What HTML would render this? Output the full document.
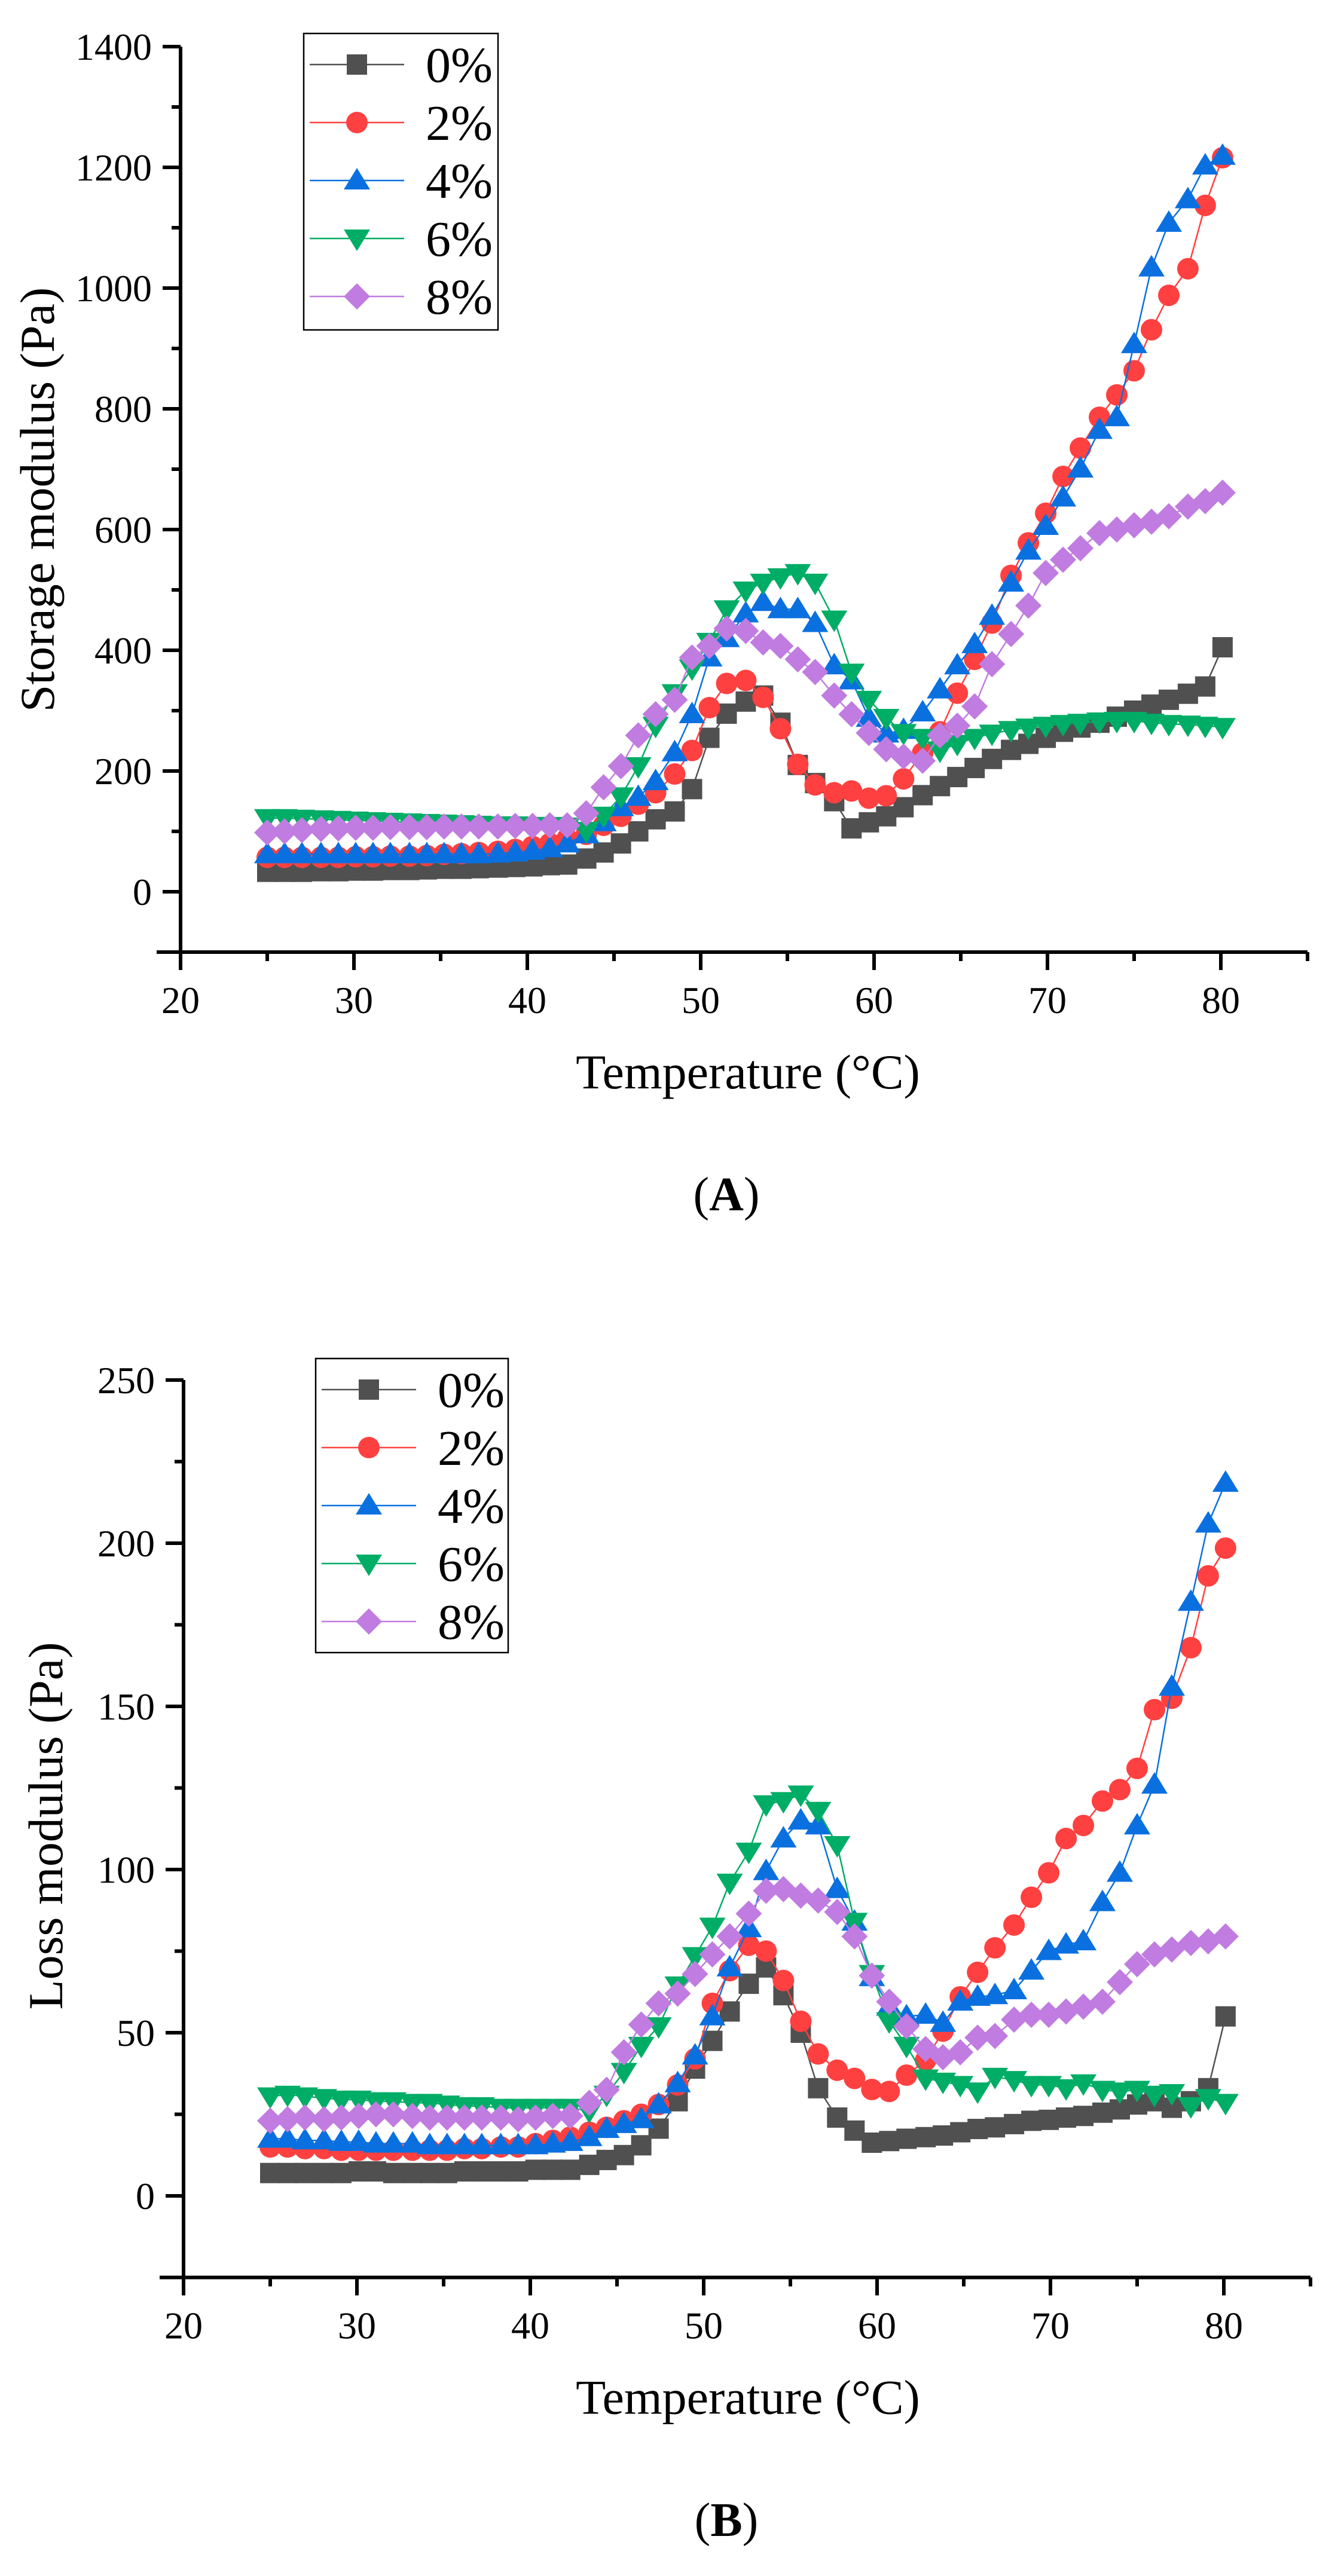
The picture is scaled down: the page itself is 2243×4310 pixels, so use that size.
<!DOCTYPE html>
<html><head><meta charset="utf-8"><style>
html,body{margin:0;padding:0;background:#fff;}
svg{display:block;font-family:"Liberation Serif","Times New Roman",serif;}
svg text{font-family:"Liberation Serif","Times New Roman",serif;}
</style></head><body>
<svg id="fig" width="2243" height="4310" viewBox="0 0 2243 4310" xmlns="http://www.w3.org/2000/svg" font-family="Liberation Serif, serif">
<rect width="2243" height="4310" fill="#fff"/>
<g id="chartA" font-family="Liberation Serif, serif"></g>
<g id="chartB" font-family="Liberation Serif, serif"></g>
<text x="1215" y="2025" font-size="80" text-anchor="middle" font-family="Liberation Serif, serif">(<tspan font-weight="bold">A</tspan>)</text>
<text x="1215" y="4243" font-size="80" text-anchor="middle" font-family="Liberation Serif, serif">(<tspan font-weight="bold">B</tspan>)</text>
</svg>
<script>
const temps=[25.0,26.0,27.0,28.1,29.1,30.1,31.1,32.1,33.2,34.2,35.2,36.2,37.2,38.3,39.3,40.3,41.3,42.3,43.4,44.4,45.4,46.4,47.4,48.5,49.5,50.5,51.5,52.6,53.6,54.6,55.6,56.6,57.7,58.7,59.7,60.7,61.7,62.8,63.8,64.8,65.8,66.8,67.9,68.9,69.9,70.9,71.9,73.0,74.0,75.0,76.0,77.0,78.1,79.1,80.1];
const seriesNames=["0%","2%","4%","6%","8%"];
const xTicks=[20,30,40,50,60,70,80];
const yTicksA=[0,200,400,600,800,1000,1200,1400];
const yTicksB=[0,50,100,150,200,250];
const storage0=[33,33,33,34,34,35,35,36,36,37,38,38,39,40,41,42,44,45,55,65,80,100,120,133,170,255,295,315,325,280,210,180,150,105,115,125,140,160,175,190,205,220,235,245,255,265,272,280,290,300,310,318,328,340,405];
const storage2=[57,57,57,57,57,58,58,59,59,60,62,63,65,67,70,75,80,88,95,110,125,145,164,195,234,305,345,350,322,270,211,177,164,167,155,159,187,230,265,329,385,445,524,578,627,688,735,786,823,863,931,988,1032,1137,1216];
const storage4=[62,62,62,62,62,62,62,62,62,62,62,62,62,63,65,68,72,80,95,115,140,157,183,231,294,388,420,461,480,468,468,445,375,350,288,262,268,297,335,375,410,457,512,565,606,653,701,765,786,907,1034,1108,1147,1203,1219];
const storage6=[122,122,121,120,119,118,117,116,115,114,113,112,111,110,110,109,109,108,101,126,158,208,275,329,370,414,468,499,512,521,528,512,451,363,318,288,263,255,234,245,255,262,268,272,275,278,280,282,283,283,280,278,277,275,273];
const storage8=[98,100,102,104,105,106,106,107,107,107,108,108,108,108,109,109,110,110,130,173,208,259,294,318,388,407,436,432,413,407,385,364,325,294,263,236,224,217,259,275,307,377,427,474,528,550,569,594,600,607,613,622,638,647,661];
const loss0=[7,7,7,7,7,7.5,7.5,7,7,7,7,7.5,7.5,7.5,7.5,8,8,8,9.5,11,12.5,15.5,20.6,29,39,47.5,56.5,65,70,61.5,50,33,24,20,16.3,16.8,17.5,18,18.5,19.5,20.5,21,22,23,23.3,24,24.5,25.5,26.5,28,29,27,29,33,55];
const loss2=[15,15,14.5,14.5,14,14,14,14,14,14,14,14.5,14.5,15,15,16,17,18,19.5,21,23,25,28,34,42,59,69,76.8,75,66,53.5,43.5,38.5,36,32.6,32,37,41.5,50.5,61,68.5,76,83,91.5,99,109.5,113.5,121,124.5,131,149,152.5,168,190,198.5];
const loss4=[17.5,17.5,17,17,16.5,16.5,16,16,16,15.5,15.5,15.5,15.5,15.5,15.5,15.5,16,16.5,18,20.5,22,23.5,28,34.5,43,55,70,82,99.5,109.5,115,113.5,94,84,67,58,55,55.5,53,59.5,61,61.5,63,69,75,77,78,90,99,113.5,126,156,182,206,218.5];
const loss6=[30.5,31,30.5,30,29.5,29.5,29,29,28.5,28.5,28,27.5,27.5,27,27,27,27,27,26,31,38,46,52,64.5,73.5,82.5,96,105.5,120,121,123,118,107.5,84,68,53.5,46,36,35,34,32,36.5,35.5,34,34,33,34.5,32.5,32,32.5,31,31.5,27.5,30,28.5];
const loss8=[23,23.5,24,23.5,24,24.5,25,25,24.5,24,24,24,24,24,23.5,24,24.5,24.5,28.5,32.5,44,52.5,59,62,68,74,79.5,86.5,93.5,94,92,90.5,87,79.5,67.5,59.5,52,45,42.5,44,48.5,49,54,55.5,55.5,56.5,58,59.5,65.5,71,74,75.5,77.5,78,79.5];

const NS="http://www.w3.org/2000/svg";
const FONT="Liberation Serif, serif";
const colors=["#505050","#ff4040","#0a70e0","#00ad66","#c07ce0"];
const shapes=["square","circle","up","down","diamond"];
function mk(tag,attrs,parent){const e=document.createElementNS(NS,tag);for(const k in attrs)e.setAttribute(k,attrs[k]);if(tag==="text")e.setAttribute("font-family",FONT);parent.appendChild(e);return e;}
function marker(parent,shape,cx,cy,color){
  let e;
  if(shape==="square")e=mk("rect",{x:cx-17,y:cy-17,width:34,height:34,fill:color},parent);
  else if(shape==="circle")e=mk("circle",{cx:cx,cy:cy,r:18,fill:color},parent);
  else if(shape==="up")e=mk("polygon",{points:`${cx},${cy-21} ${cx+22},${cy+15} ${cx-22},${cy+15}`,fill:color},parent);
  else if(shape==="down")e=mk("polygon",{points:`${cx},${cy+21} ${cx+22},${cy-15} ${cx-22},${cy-15}`,fill:color},parent);
  else e=mk("polygon",{points:`${cx},${cy-22} ${cx+22},${cy} ${cx},${cy+22} ${cx-22},${cy}`,fill:color},parent);
  return e;
}
function chart(g,cfg){
  const X=t=>cfg.x0+(t-20)*cfg.xs;
  const Y=v=>cfg.y0-v*cfg.ys;
  const yBot=Y(cfg.ymin), yTop=Y(cfg.ymax), xR=X(85);
  let e;
  cfg.series.forEach((vals,i)=>{
    const sg=mk("g",{},g);
    
    
    const pts=vals.map((v,k)=>X(temps[k]).toFixed(1)+","+Y(v).toFixed(1)).join(" ");
    e=mk("polyline",{points:pts,fill:"none",stroke:colors[i],"stroke-width":2.5},sg);
    
    
    vals.forEach((v,k)=>{
      const m=marker(sg,shapes[i],X(temps[k]),Y(v),colors[i]);
      
      
    });
  });
  e=mk("line",{x1:cfg.x0,y1:yTop,x2:cfg.x0,y2:yBot+2,stroke:"#000","stroke-width":6},g);
  
  
  e=mk("line",{x1:cfg.x0-40,y1:yBot,x2:xR,y2:yBot,stroke:"#000","stroke-width":6},g);
  
  
  cfg.yTicks.forEach((v,i)=>{
    e=mk("line",{x1:cfg.x0-30,y1:Y(v),x2:cfg.x0,y2:Y(v),stroke:"#000","stroke-width":6},g);
    
    
    const t=mk("text",{x:cfg.x0-48,y:Y(v)+22,"font-size":64,"text-anchor":"end"},g);
    t.textContent=v;
    
    
    if(i<cfg.yTicks.length-1){
      const mv=(v+cfg.yTicks[i+1])/2;
      e=mk("line",{x1:cfg.x0-15,y1:Y(mv),x2:cfg.x0,y2:Y(mv),stroke:"#000","stroke-width":6},g);
      
      
    }
  });
  const mv0=cfg.yTicks[0]-(cfg.yTicks[1]-cfg.yTicks[0])/2;
  e=mk("line",{x1:cfg.x0-15,y1:Y(mv0),x2:cfg.x0,y2:Y(mv0),stroke:"#000","stroke-width":6},g);
  
  
  xTicks.forEach(v=>{
    e=mk("line",{x1:X(v),y1:yBot,x2:X(v),y2:yBot+30,stroke:"#000","stroke-width":6},g);
    
    
    e=mk("line",{x1:X(v+5),y1:yBot,x2:X(v+5),y2:yBot+15,stroke:"#000","stroke-width":6},g);
    
    
    const t=mk("text",{x:X(v),y:yBot+102,"font-size":64,"text-anchor":"middle"},g);
    t.textContent=v;
    
    
  });
  let t=mk("text",{x:1251,y:yBot+228,"font-size":82,"text-anchor":"middle"},g);
  t.textContent="Temperature (\u00B0C)";
  
  
  t=mk("text",{x:0,y:0,"font-size":82,"text-anchor":"middle",transform:`translate(${cfg.ytx},${cfg.yty}) rotate(-90)`},g);
  t.textContent=cfg.ytitle;
  
  
  const lg=mk("g",{},g);
  
  
  e=mk("rect",{x:cfg.lx,y:cfg.ly,width:cfg.lw,height:cfg.lh,fill:"#fff",stroke:"#000","stroke-width":2.5},lg);
  
  
  seriesNames.forEach((n,i)=>{
    const eg=mk("g",{},lg);
    
    
    const yy=cfg.ly+52+i*cfg.lstep;
    mk("line",{x1:cfg.lx+10,y1:yy,x2:cfg.lx+168,y2:yy,stroke:colors[i],"stroke-width":2.5},eg);
    marker(eg,shapes[i],cfg.lx+89,yy,colors[i]);
    const tt=mk("text",{x:cfg.lx+204,y:yy+29,"font-size":84},eg);
    tt.textContent=n;
  });
}
chart(document.getElementById("chartA"),{x0:302,xs:29,y0:1492,ys:1010/1000,ymin:-100,ymax:1400,yTicks:yTicksA,
  series:[storage0,storage2,storage4,storage6,storage8],ytitle:"Storage modulus (Pa)",ytx:90,yty:836,
  lx:508,ly:56,lw:325,lh:496,lstep:97});
chart(document.getElementById("chartB"),{x0:307,xs:29,y0:3674,ys:273/50,ymin:-25,ymax:250,yTicks:yTicksB,
  series:[loss0,loss2,loss4,loss6,loss8],ytitle:"Loss modulus (Pa)",ytx:104,yty:3055,
  lx:528,ly:2273,lw:322,lh:492,lstep:97});
</script>
</body></html>
